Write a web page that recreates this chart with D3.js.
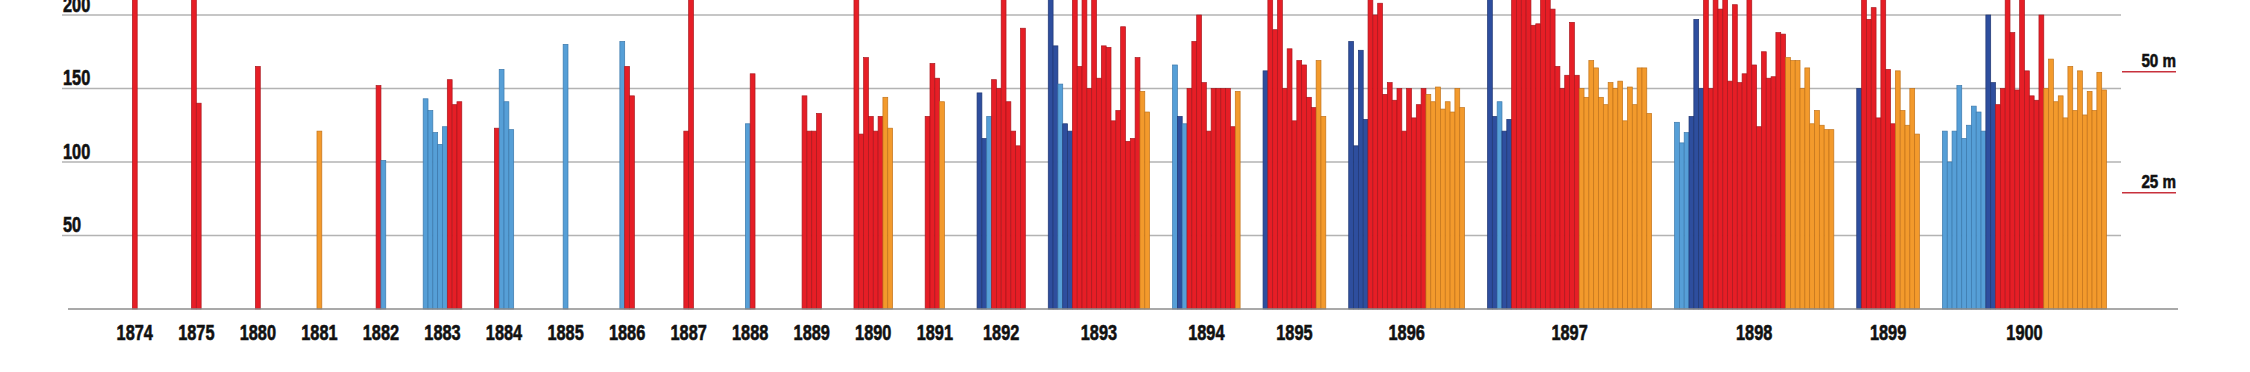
<!DOCTYPE html>
<html>
<head>
<meta charset="utf-8">
<script src="https://cdn.jsdelivr.net/npm/d3@7/dist/d3.min.js"></script>
<style>
  html, body { margin: 0; padding: 0; background: #ffffff; }
  svg { display: block; }
  text { font-family: "Liberation Sans", Arial, sans-serif; font-weight: bold; fill: #111; stroke: #111; stroke-width: 0.6px; }
</style>
</head>
<body>
<svg id="chart" width="2250" height="372"></svg>
<script>
// ---------------- DATA ----------------
const years = ["1874","1875","1880","1881","1882","1883","1884","1885","1886","1887","1888","1889",
               "1890","1891","1892","1893","1894","1895","1896","1897","1898","1899","1900"];

// Category of each bar, run-length coded per year (D = dark blue, L = light blue, R = red, O = orange)
const categories = ["D", "L", "R", "O"];
const kinds = ["R1","R2","R1","O1","R1L1","L5R3","R1L3","L1","L1R2","R2","L1R1","R4",
               "R6O2","R3O1","D2L1R7","D2L1D2R14O2","L1D1L1R10O1","D1R10O2","D4R12O8",
               "D2L1D2R14O15","L3D3R17O10","D1R7O5","L9D2R10O13"];

// Bar heights per year (values above ~210 run off the top of the picture)
const heights = [
  [240],
  [240, 140],
  [165],
  [121],
  [152, 101],
  [143, 135, 120, 112, 124, 156, 139, 141],
  [123, 163, 141, 122],
  [180],
  [182, 165, 145],
  [121, 240],
  [126, 160],
  [145, 121, 121, 133],
  [240, 119, 171, 131, 121, 131, 144, 123],
  [131, 167, 157, 141],
  [147, 116, 131, 156, 150, 240, 141, 121, 111, 191],
  [240, 179, 153, 126, 121, 240, 165, 240, 150, 240, 157, 179, 178, 128, 135, 192, 114, 116, 171, 148, 134],
  [166, 131, 126, 150, 182, 200, 154, 121, 150, 150, 150, 150, 124, 148],
  [162, 240, 190, 240, 150, 177, 128, 169, 166, 144, 137, 169, 131],
  [182, 111, 176, 129, 240, 200, 208, 146, 154, 142, 150, 121, 150, 130, 139, 150, 146, 141, 151, 136, 141, 134, 150, 137],
  [240, 131, 141, 121, 129, 240, 240, 240, 240, 193, 194, 240, 240, 204, 165, 150, 159, 195, 159,
   150, 144, 169, 164, 144, 139, 154, 150, 155, 128, 151, 139, 164, 164, 133],
  [127, 113, 120, 131, 197, 150, 240, 150, 240, 204, 240, 155, 207, 154, 160, 240, 166, 124, 175, 157, 158, 188, 187,
   171, 169, 169, 150, 164, 126, 135, 125, 122, 122],
  [150, 240, 197, 205, 130, 240, 163, 126, 162, 135, 125, 150, 119],
  [121, 100, 121, 152, 116, 125, 138, 134, 121, 200, 154, 139, 150, 240, 188, 149, 240, 162, 145, 142, 200,
   150, 170, 141, 145, 130, 165, 135, 162, 132, 148, 135, 161, 149]
];

const yTicks = [50, 100, 150, 200];
const meterTicks = [25, 50];

// ---------------- STYLE / LAYOUT ----------------
const fills   = { D: "#2e4e9e", L: "#569fd7", R: "#e61e26", O: "#f39a2c" };
const strokes = { D: "#1f3672", L: "#3b78ab", R: "#a9171d", O: "#c2731a" };
const squeeze = 0.76;   // condensed look for the labels

const svg = d3.select("#chart");

// expand run-length categories
function expand(code) {
  const out = [];
  const re = /([A-Z])(\d+)/g;
  let m;
  while ((m = re.exec(code)) !== null) for (let i = 0; i < +m[2]; i++) out.push(m[1]);
  return out;
}

// layout in "bar units": each year gets a slot of max(n, minUnits) + gapUnits
const minUnits = 8, gapUnits = 4.75;
let cursor = 0;
const groups = years.map((yr, i) => {
  const vals = heights[i];
  const cats = expand(kinds[i]);
  const n = vals.length;
  const slot = Math.max(n, minUnits) + gapUnits;
  const start = cursor + (slot - n) / 2;
  const g = { year: yr, n, start, center: cursor + slot / 2,
              bars: vals.map((v, j) => ({ v, cat: cats[j], u: start + j })) };
  cursor += slot;
  return g;
});
const totalUnits = cursor;

const x = d3.scaleLinear().domain([0, totalUnits]).range([104, 2118]);
const y = d3.scaleLinear().domain([0, 200]).range([309, 15]);
const yM = d3.scaleLinear().domain([0, 50]).range([313.7, 71.7]);

// grid lines
svg.append("g").selectAll("line").data(yTicks).join("line")
  .attr("x1", 62).attr("x2", 2121)
  .attr("y1", d => y(d)).attr("y2", d => y(d))
  .attr("stroke", "#b3b3b3").attr("stroke-width", 1.3);

// y labels
svg.append("g").selectAll("text").data(yTicks).join("text")
  .attr("transform", d => `translate(63,${y(d) - 3.5}) scale(${squeeze},1)`)
  .attr("font-size", 21.5)
  .text(d => d);

// bars
const bw = x(1) - x(0);
const allBars = groups.flatMap(g => g.bars);
svg.append("g").selectAll("rect").data(allBars).join("rect")
  .attr("x", d => x(d.u))
  .attr("width", bw)
  .attr("y", d => y(d.v))
  .attr("height", d => y(0) - y(d.v))
  .attr("fill", d => fills[d.cat])
  .attr("stroke", d => strokes[d.cat])
  .attr("stroke-width", 0.7);

// baseline
svg.append("line")
  .attr("x1", 68).attr("x2", 2178)
  .attr("y1", y(0)).attr("y2", y(0))
  .attr("stroke", "#8c8c8c").attr("stroke-width", 1.5);

// year labels
svg.append("g").selectAll("text").data(groups).join("text")
  .attr("transform", d => `translate(${x(d.center)},340) scale(${squeeze},1)`)
  .attr("text-anchor", "middle")
  .attr("font-size", 21.5)
  .text(d => d.year);

// meter scale on the right
const mg = svg.append("g").selectAll("g").data(meterTicks).join("g");
mg.append("line")
  .attr("x1", 2122).attr("x2", 2176)
  .attr("y1", d => yM(d)).attr("y2", d => yM(d))
  .attr("stroke", "#c8313c").attr("stroke-width", 1.5);
mg.append("text")
  .attr("transform", d => `translate(2176,${yM(d) - 4.5}) scale(0.8,1)`)
  .attr("text-anchor", "end")
  .attr("font-size", 19)
  .text(d => d + " m");
</script>
</body>
</html>
